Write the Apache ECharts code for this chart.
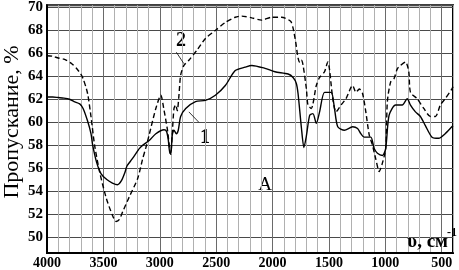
<!DOCTYPE html>
<html>
<head>
<meta charset="utf-8">
<script src="https://cdn.jsdelivr.net/npm/echarts@6/dist/echarts.min.js"></script>
<style>html,body{margin:0;padding:0;background:#fff;}#c{width:459px;height:270px;}</style>
</head>
<body>
<div id="c"></div>
<script>
// Curve 1 (solid)
const wave1 = [4000,3950,3900,3850,3800,3760,3710,3680,3640,3610,3595,3560,3520,3470,3420,3375,3340,3310,3290,3260,3230,3196,3182,3150,3094,3035,2962,2940,2925,2910,2900,2889,2874,2853,2836,2815,2770,2683,2595,2507,2419,2331,2243,2184,2067,1979,1862,1818,1790,1774,1744,1722,1700,1671,1642,1612,1583,1539,1480,1451,1422,1363,1290,1246,1217,1187,1129,1099,1070,1026,997,967,909,850,806,777,733,689,645,586,527,469,410,400];
const trans1 = [62.2,62.2,62.15,62.1,62.0,61.8,61.6,61.2,60.1,59.0,58.0,56.5,55.5,55.0,54.7,54.55,54.9,55.6,56.2,56.6,57.0,57.5,57.7,58.0,58.4,59.0,59.35,59.2,58.5,57.3,57.4,58.9,59.3,59.0,59.3,60.5,61.2,61.8,61.9,62.35,63.2,64.5,64.8,64.95,64.7,64.4,64.2,63.9,63.4,62.5,59.5,57.8,58.8,60.6,60.75,59.9,60.9,62.6,62.6,61.2,59.6,59.3,59.6,59.45,59.0,58.7,58.7,57.7,57.3,57.1,57.7,60.6,61.5,61.5,62.05,61.5,60.9,60.5,59.7,58.7,58.6,59.0,59.6,59.7];
// Curve 2 (dashed)
const wave2 = [4000,3950,3900,3850,3827,3780,3739,3700,3680,3650,3636,3610,3578,3534,3475,3420,3387,3360,3329,3270,3196,3152,3123,3094,3035,2991,2965,2933,2903,2890,2874,2859,2845,2830,2815,2786,2742,2669,2595,2507,2419,2331,2273,2184,2097,2009,1920,1840,1818,1795,1774,1759,1745,1730,1700,1686,1657,1612,1583,1539,1510,1495,1466,1437,1393,1349,1290,1260,1231,1202,1173,1143,1114,1085,1054,1030,997,982,953,923,894,865,821,792,777,718,659,600,556,512,469,410,400];
const trans2 = [65.8,65.75,65.6,65.5,65.4,65.1,64.7,64.2,63.8,62.9,62.3,60.5,58.0,55.7,53.4,51.9,51.35,51.5,52.2,53.5,55.1,56.8,57.8,58.9,61.2,62.35,61.2,59.4,57.2,58.9,61.2,61.5,61.0,62.35,64.1,64.95,65.4,66.3,67.3,68.0,68.7,69.15,69.25,69.1,68.9,69.15,69.15,68.8,68.2,67.0,65.6,65.2,65.4,65.0,62.9,61.5,61.2,63.2,63.9,64.4,65.25,64.6,62.05,60.9,61.5,62.05,63.2,62.6,62.9,62.5,60.9,58.9,58.0,56.8,55.7,56.3,57.7,61.8,63.5,63.8,64.65,64.95,65.25,64.4,62.6,62.05,61.2,60.5,60.5,61.5,62.05,62.9,63.1];
const xTickLabels = [4000,3500,3000,2500,2000,1500,1000,500];
const yTickLabels = [50,52,54,56,58,60,62,64,66,68,70];
// leader lines (data coords)
const lead2 = [[2853,66.1],[2786,65.1]];
const lead1 = [[2742,60.9],[2654,60.0]];

const chart = echarts.init(document.getElementById('c'), null, {renderer:'canvas'});
const serif = '"Liberation Serif","DejaVu Serif",serif';
const pairs = (xs, ys) => xs.map((x,i)=>[x, ys[i]]);
chart.setOption({
  animation:false,
  backgroundColor:'#fff',
  grid:{left:47,right:2,top:2,bottom:17,show:true,borderColor:'#000',borderWidth:2,backgroundColor:'transparent'},
  xAxis:{
    type:'value', inverse:true, min:400, max:4000, interval:100,
    axisLine:{show:true,onZero:false,lineStyle:{color:'#000',width:2}},
    axisTick:{show:false},
    axisLabel:{
      fontFamily:serif,fontWeight:'bold',fontSize:14,color:'#000',margin:3,
      showMinLabel:true,showMaxLabel:true,
      formatter:v=> xTickLabels.indexOf(Math.round(v))>=0 ? String(Math.round(v)) : ''
    },
    splitLine:{show:true,lineStyle:{color:['#b0b0b0','#6a6a6a','#b0b0b0','#b0b0b0','#b0b0b0'],width:1}}
  },
  yAxis:{
    type:'value', min:48.6, max:70.2, splitNumber:10,
    axisLine:{show:true,onZero:false,lineStyle:{color:'#000',width:2}},
    axisTick:{show:false},
    axisLabel:{
      fontFamily:serif,fontWeight:'bold',fontSize:15,color:'#000',margin:4,
      showMinLabel:false,showMaxLabel:false,
      formatter:v=> yTickLabels.indexOf(Math.round(v*1000)/1000)>=0 ? String(Math.round(v)) : ''
    },
    splitLine:{show:true,lineStyle:{color:'#4a4a4a',width:1}}
  },
  series:[
    {type:'line',data:pairs(wave1,trans1),showSymbol:false,symbol:'none',smooth:0.25,
     lineStyle:{color:'#000',width:1.4},z:3,
     markLine:{silent:true,symbol:'none',label:{show:false},lineStyle:{color:'#000',width:0.8,type:'solid'},
       data:[[{coord:lead1[0]},{coord:lead1[1]}]]}},
    {type:'line',data:pairs(wave2,trans2),showSymbol:false,symbol:'none',smooth:0.25,
     lineStyle:{color:'#000',width:1.4,type:[5,3]},z:3,
     markLine:{silent:true,symbol:'none',label:{show:false},lineStyle:{color:'#000',width:0.8,type:'solid'},
       data:[[{coord:lead2[0]},{coord:lead2[1]}]]}}
  ],
  graphic:[
    {type:'text',x:12,y:122,rotation:Math.PI/2,style:{text:'Пропускание, %',font:'22px '+serif,fill:'#000',align:'center',verticalAlign:'middle'}},
    {type:'text',x:181,y:41,style:{text:'2',font:'bold 20px '+serif,fill:'#000',align:'center',verticalAlign:'middle'}},
    {type:'text',x:205,y:138,style:{text:'1',font:'bold 20px '+serif,fill:'#000',align:'center',verticalAlign:'middle'}},
    {type:'text',x:265,y:185,style:{text:'A',font:'19px '+serif,fill:'#000',align:'center',verticalAlign:'middle'}},
    {type:'text',x:448,y:242,z:10,style:{text:'υ, см',font:'bold 19px '+serif,fill:'#000',align:'right',verticalAlign:'middle'}},
    {type:'text',x:457,y:233,z:10,style:{text:'-1',font:'bold 12px '+serif,fill:'#000',align:'right',verticalAlign:'middle'}}
  ]
});
</script>
</body>
</html>
